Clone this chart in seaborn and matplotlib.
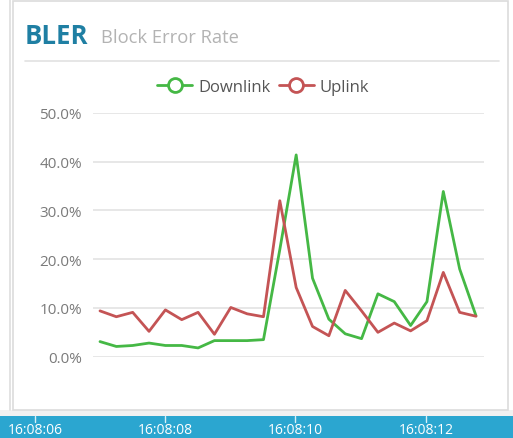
import matplotlib
matplotlib.use("Agg")
import matplotlib.pyplot as plt
from matplotlib.lines import Line2D
from matplotlib.patches import Rectangle
import numpy as np
import pandas as pd
import seaborn as sns

# BLER samples, one every 250 ms
downlink = [3.1, 2.1, 2.3, 2.8, 2.3, 2.3, 1.8, 3.3, 3.3, 3.3, 3.5, 22.0,
            41.4, 16.1, 7.7, 4.7, 3.7, 12.9, 11.3, 6.4, 11.3, 33.9, 18.0, 8.4]
uplink = [9.4, 8.2, 9.1, 5.2, 9.6, 7.6, 9.1, 4.6, 10.1, 8.8, 8.2, 32.0,
          14.2, 6.2, 4.3, 13.6, 9.4, 5.0, 6.9, 5.3, 7.4, 17.3, 9.1, 8.3]
series_names = ["Downlink", "Uplink"]
y_ticks = [0, 10, 20, 30, 40, 50]
time_labels = ["16:08:06", "16:08:08", "16:08:10", "16:08:12"]

GREEN = "#45b845"
RED = "#c45455"
BLUE_BAR = "#2ba6d0"

n = len(downlink)
df = pd.DataFrame({
    "t": list(range(n)) * 2,
    "bler": downlink + uplink,
    "link": [series_names[0]] * n + [series_names[1]] * n,
})

sns.set_theme(style="white")
plt.rcParams["font.family"] = ["Open Sans", "DejaVu Sans"]

W, H = 513, 439
fig = plt.figure(figsize=(W / 100, H / 100), dpi=100)
fig.patch.set_facecolor("white")


def fx(px):
    return px / W


def fy(py):
    return 1 - py / H


# panel frame and surroundings
fig.add_artist(Rectangle((0, fy(417)), 1, fy(411) - fy(417), transform=fig.transFigure,
                         facecolor="#f1f1f1", edgecolor="none", zorder=-2))
fig.add_artist(Line2D([fx(10), fx(10)], [fy(0), fy(411)], transform=fig.transFigure,
                      color="#dedede", lw=1.2, zorder=-2))
fig.add_artist(Rectangle((fx(13), fy(411)), fx(508) - fx(13), fy(2) - fy(411),
                         transform=fig.transFigure, facecolor="white",
                         edgecolor="#dcdcdc", lw=1.2, zorder=-1))

# header
fig.text(fx(25), fy(37), "BLER", color="#1f7fa3", fontsize=18.5, fontweight="bold",
         va="center", ha="left")
fig.text(fx(101), fy(38), "Block Error Rate", color="#b3b3b3", fontsize=13.2,
         va="center", ha="left")
fig.add_artist(Line2D([fx(25), fx(499)], [fy(62), fy(62)], transform=fig.transFigure,
                      color="#e2e2e2", lw=1.2))

# chart area
x0, x1 = 93, 484
ytop, ybot = 114, 357.7
ax = fig.add_axes([fx(x0), fy(ybot), fx(x1) - fx(x0), fy(ytop) - fy(ybot)])
ax.set_facecolor("none")
sns.lineplot(data=df, x="t", y="bler", hue="link", palette=[GREEN, RED],
             linewidth=2, ax=ax, legend=False, zorder=3)
step = (476 - 100) / (n - 1)
ax.set_xlim(-(100 - x0) / step, (n - 1) + (x1 - 476) / step)
ax.set_ylim(0, 50)
ax.set_yticks(y_ticks)
ax.set_yticklabels([f"{v:.1f}%" for v in y_ticks], color="#7a7a7a", fontsize=11)
ax.tick_params(axis="y", length=0, pad=8)
ax.set_xticks([])
ax.set_xlabel("")
ax.set_ylabel("")
ax.grid(axis="y", color="#e3e3e3", lw=1.2)
for s in ax.spines.values():
    s.set_visible(False)

handles = [Line2D([], [], color=c, lw=2, marker="o", markersize=10,
                  markerfacecolor="white", markeredgewidth=2)
           for c in (GREEN, RED)]
leg = fig.legend(handles, series_names, loc="center", bbox_to_anchor=(fx(263), fy(88)),
                 ncol=2, frameon=False, fontsize=12, handlelength=2.1,
                 columnspacing=0.5, handletextpad=0.35)
for t in leg.get_texts():
    t.set_color("#555555")

# timeline bar
bar_h = H - 417
bar = fig.add_axes([0, 0, 1, fy(417)])
bar.set_facecolor(BLUE_BAR)
bar.set_xlim(0, W)
bar.set_ylim(bar_h, 0)
bar.set_xticks([])
bar.set_yticks([])
for s in bar.spines.values():
    s.set_visible(False)
for lbl, px in zip(time_labels, [35, 165, 295, 426]):
    bar.plot([px, px], [0, 6], color="#d8f0f8", lw=1)
    bar.text(px, 17.5, lbl, color="white", fontsize=10, ha="center", va="baseline")

fig.savefig("out.png", dpi=100)
